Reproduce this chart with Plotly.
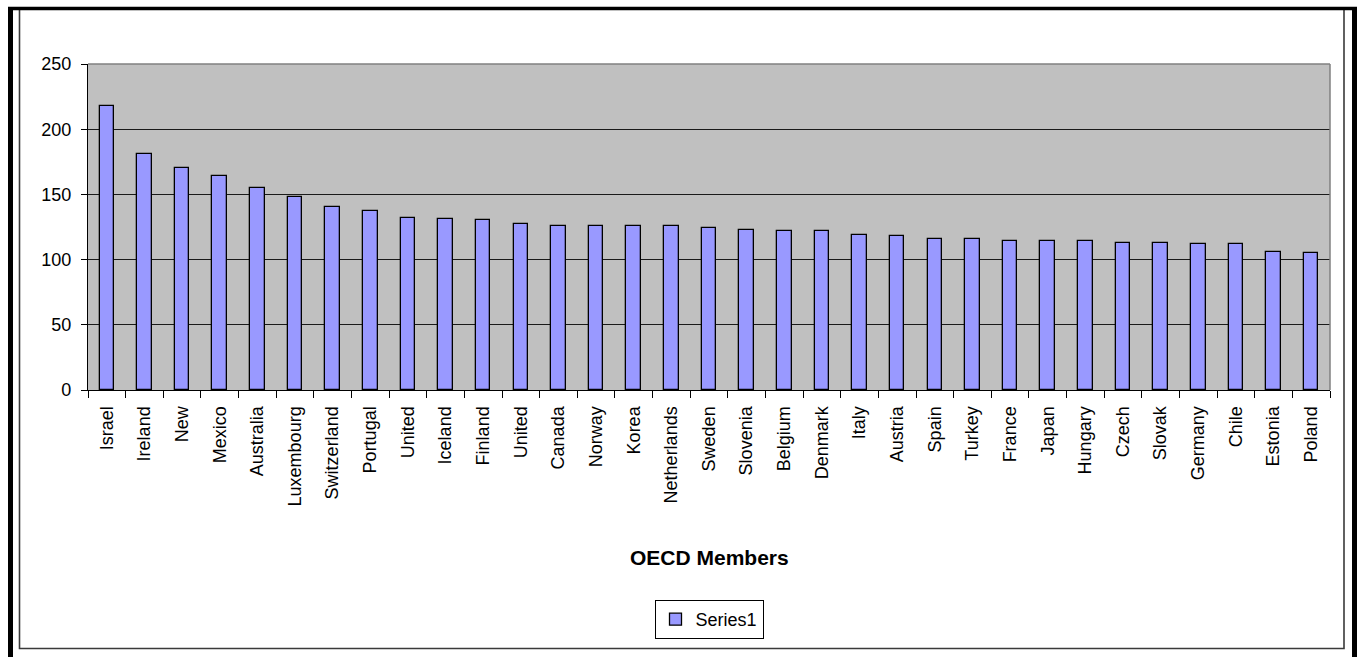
import plotly.graph_objects as go

# OECD members and their values (Series1)
members = [
    "Israel", "Ireland", "New", "Mexico", "Australia", "Luxembourg",
    "Switzerland", "Portugal", "United", "Iceland", "Finland", "United",
    "Canada", "Norway", "Korea", "Netherlands", "Sweden", "Slovenia",
    "Belgium", "Denmark", "Italy", "Austria", "Spain", "Turkey", "France",
    "Japan", "Hungary", "Czech", "Slovak", "Germany", "Chile", "Estonia",
    "Poland",
]
series1 = [
    218, 181, 170, 164, 155, 148, 140, 137.5, 132, 131, 130, 127,
    126, 126, 126, 126, 124, 123, 122, 122, 119, 118, 116, 116, 114.5,
    114.5, 114.5, 113, 113, 112, 112, 106, 105,
]
y_ticks = [0, 50, 100, 150, 200, 250]

# positions are category indices (names repeat, so a numeric axis is used)
positions = list(range(len(members)))

W, H = 1361, 657
L, R, T, B = 88, 1330, 64, 390


def px(x):
    return (x - L) / (R - L)


def py(y):
    return (B - y) / (B - T)


FONT = "Liberation Sans, Arial, sans-serif"

fig = go.Figure()
fig.add_trace(go.Bar(
    x=positions,
    y=series1,
    name="Series1",
    width=0.385,
    marker=dict(color="#9999FF", line=dict(color="#000000", width=1.3)),
    showlegend=True,
))

fig.update_layout(
    width=W, height=H, autosize=False,
    margin=dict(l=L, r=W - R, t=T, b=H - B, pad=0),
    paper_bgcolor="#FFFFFF",
    plot_bgcolor="#C0C0C0",
    font=dict(family=FONT, size=18, color="#000000"),
    bargap=0,
    showlegend=True,
    legend=dict(
        orientation="h", x=0.5, xanchor="center", y=py(600), yanchor="top",
        bgcolor="#FFFFFF", bordercolor="#000000", borderwidth=1,
        font=dict(family=FONT, size=18, color="#000000"),
        itemwidth=30,
    ),
    xaxis=dict(
        range=[-0.5, len(members) - 0.5],
        tickmode="array", tickvals=positions, ticktext=members,
        tickangle=-90,
        ticks="outside", ticklen=7, tickcolor="rgba(0,0,0,0)",
        ticklabelstandoff=1,
        tickfont=dict(family=FONT, size=18, color="#000000"),
        showline=True, linecolor="#000000", linewidth=1.3,
        showgrid=False, zeroline=False,
        minor=dict(tick0=-0.5, dtick=1, ticks="outside", ticklen=7,
                   tickcolor="#000000", tickwidth=1.3, showgrid=False),
    ),
    yaxis=dict(
        range=[0, 250],
        tickmode="array", tickvals=y_ticks,
        ticks="outside", ticklen=6, tickcolor="#000000", tickwidth=1.3,
        ticklabelstandoff=6,
        tickfont=dict(family=FONT, size=18, color="#000000"),
        showline=True, linecolor="#000000", linewidth=1.3,
        showgrid=True, gridcolor="#1A1A1A", gridwidth=1.3,
        zeroline=False,
    ),
    annotations=[dict(
        text="<b>OECD Members</b>", xref="paper", yref="paper",
        x=0.5, y=py(557), xanchor="center", yanchor="middle",
        showarrow=False, font=dict(family=FONT, size=21, color="#000000"),
    )],
    shapes=[
        # plot area top and right edges in grey
        dict(type="line", xref="paper", yref="paper", x0=0, x1=1, y0=1, y1=1,
             line=dict(color="#808080", width=1.5), layer="above"),
        dict(type="line", xref="paper", yref="paper", x0=1, x1=1, y0=0, y1=1,
             line=dict(color="#808080", width=1.5), layer="above"),
        # inner frame of the chart object
        dict(type="rect", xref="paper", yref="paper",
             x0=px(19.5), x1=px(1344), y0=py(648.5), y1=py(9),
             line=dict(color="#3A3A3A", width=1.6), layer="above"),
        # thick outer border (top, left, right)
        dict(type="line", xref="paper", yref="paper",
             x0=px(8), x1=px(1357), y0=py(8.5), y1=py(8.5),
             line=dict(color="#000000", width=3.5), layer="above"),
        dict(type="line", xref="paper", yref="paper",
             x0=px(10.5), x1=px(10.5), y0=py(7), y1=py(660),
             line=dict(color="#000000", width=5), layer="above"),
        dict(type="line", xref="paper", yref="paper",
             x0=px(1354.5), x1=px(1354.5), y0=py(7), y1=py(660),
             line=dict(color="#000000", width=5), layer="above"),
    ],
)

fig.write_html("out.html")
